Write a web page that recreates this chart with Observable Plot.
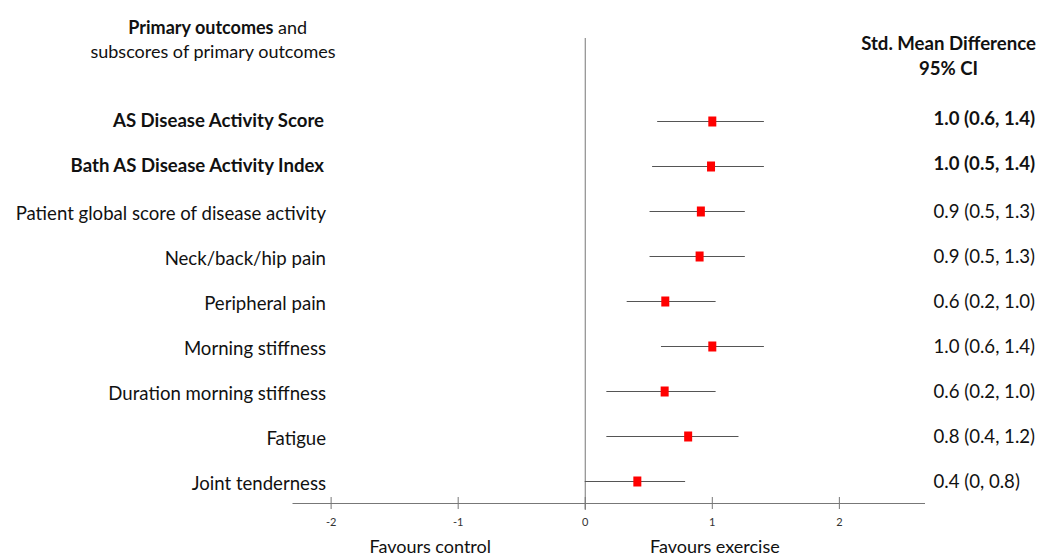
<!DOCTYPE html>
<html>
<head>
<meta charset="utf-8">
<script src="https://cdn.jsdelivr.net/npm/d3@7"></script>
<script src="https://cdn.jsdelivr.net/npm/@observablehq/plot@0.6"></script>
<style>
  html, body { margin: 0; padding: 0; background: #fff; overflow: hidden; }
  #chart svg { display: block; }
</style>
</head>
<body>
<div id="chart"></div>
<script>
// ---- data ----
const outcomes = [
  "AS Disease Activity Score",
  "Bath AS Disease Activity Index",
  "Patient global score of disease activity",
  "Neck/back/hip pain",
  "Peripheral pain",
  "Morning stiffness",
  "Duration morning stiffness",
  "Fatigue",
  "Joint tenderness"
];
const estimates = [1.0, 0.99, 0.91, 0.90, 0.63, 1.0, 0.625, 0.81, 0.41];
const lower     = [0.57, 0.53, 0.51, 0.51, 0.33, 0.60, 0.17, 0.17, 0.0];
const upper     = [1.41, 1.41, 1.26, 1.26, 1.03, 1.41, 1.03, 1.21, 0.79];
const ciLabels  = [
  "1.0 (0.6, 1.4)", "1.0 (0.5, 1.4)", "0.9 (0.5, 1.3)", "0.9 (0.5, 1.3)",
  "0.6 (0.2, 1.0)", "1.0 (0.6, 1.4)", "0.6 (0.2, 1.0)", "0.8 (0.4, 1.2)",
  "0.4 (0, 0.8)"
];
const isPrimary = [true, true, false, false, false, false, false, false, false];
const xTicks = [-2, -1, 0, 1, 2];
const favourLabels = ["Favours control", "Favours exercise"];
const favourPos = [-1.22, 1.02];

const rows = outcomes.map((label, i) => ({
  label, est: estimates[i], lo: lower[i], hi: upper[i], ci: ciLabels[i], bold: isPrimary[i]
}));
const favours = favourLabels.map((t, i) => ({t, x: favourPos[i]}));

const square = { draw(ctx) { ctx.rect(-4, -5, 8, 10); } };
const FS = 18;
const FSL = 18.6;
const ink = "#111";

const chart = Plot.plot({
  width: 1038,
  height: 555,
  marginLeft: 292.5,
  marginRight: 114,
  marginTop: 38,
  marginBottom: 52,
  style: { fontFamily: "Lato, sans-serif", background: "white", color: ink },
  x: { domain: [-2.30, 2.67] },
  y: { type: "point", domain: outcomes, range: [118, 483.5], padding: 0, axis: null },
  marks: [
    Plot.frame({ anchor: "bottom", stroke: "#777" }),
    Plot.ruleX([0], { stroke: "#777", insetBottom: -7 }),
    Plot.ruleX(xTicks, { x: d => d, stroke: "#777", insetTop: 459, insetBottom: -6 }),
    Plot.axisX({ ticks: xTicks, tickSize: 0, tickPadding: 15, fontSize: 11, tickFormat: d => String(d), label: null, fill: "#333" }),
    Plot.ruleY(rows, { y: "label", x1: "lo", x2: "hi", stroke: "#555", strokeWidth: 1 }),
    Plot.dot(rows, { x: "est", y: "label", symbol: square, fill: "#ff0000", stroke: "none" }),
    // left labels
    Plot.text(rows.filter(d => d.bold), { y: "label", text: "label", frameAnchor: "left", dx: 31, dy: 0, textAnchor: "end", fontSize: FSL, fontWeight: "bold", fill: ink }),
    Plot.text(rows.filter(d => !d.bold), { y: "label", text: "label", frameAnchor: "left", dx: 33, dy: 3, textAnchor: "end", fontSize: FSL, fill: ink }),
    // right CI labels
    Plot.text(rows.filter(d => d.bold), { y: "label", text: "ci", frameAnchor: "right", dx: 9, dy: -2, textAnchor: "start", fontSize: FSL, fontWeight: "bold", fill: ink }),
    Plot.text(rows.filter(d => !d.bold), { y: "label", text: "ci", frameAnchor: "right", dx: 9, dy: 1, textAnchor: "start", fontSize: FSL, fill: ink }),
    // headers
    Plot.text(["Primary outcomes"], { frameAnchor: "top-left", dx: -19.5, dy: -17.5, textAnchor: "end", fontSize: FS, fontWeight: "bold", fill: ink }),
    Plot.text(["and"], { frameAnchor: "top-left", dx: -15, dy: -17.5, textAnchor: "start", fontSize: FS, fill: ink }),
    Plot.text(["subscores of primary outcomes"], { frameAnchor: "top-left", dx: -80, dy: 7, textAnchor: "middle", fontSize: FS, fill: ink }),
    Plot.text(["Std. Mean Difference"], { frameAnchor: "top-right", dx: 24, dy: -2, textAnchor: "middle", fontSize: FSL, fontWeight: "bold", fill: ink }),
    Plot.text(["95% CI"], { frameAnchor: "top-right", dx: 24, dy: 23.5, textAnchor: "middle", fontSize: FSL, fontWeight: "bold", fill: ink }),
    // favours
    Plot.text(favours, { x: "x", text: "t", frameAnchor: "bottom", dy: 49, textAnchor: "middle", fontSize: FS, fill: ink })
  ]
});
document.getElementById("chart").appendChild(chart);
</script>
</body>
</html>
